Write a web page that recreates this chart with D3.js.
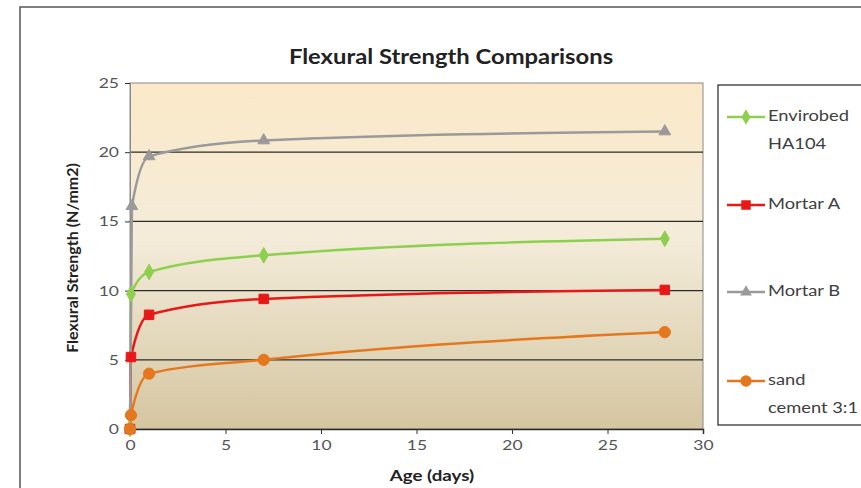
<!DOCTYPE html>
<html><head><meta charset="utf-8">
<script src="https://cdn.jsdelivr.net/npm/d3@7"></script>
<style>body{margin:0;background:#fff;}svg{display:block;font-family:Lato,"Open Sans",sans-serif;}</style>
</head><body><svg id="c" width="861" height="488"></svg>
<script>
const seriesNames = ["Envirobed HA104", "Mortar A", "Mortar B", "sand cement 3:1"];
const envirobedX = [0, 0.05, 1, 7, 28];
const envirobedY = [0, 9.75, 11.35, 12.55, 13.75];
const mortarAX = [0, 0.05, 1, 7, 28];
const mortarAY = [0, 5.2, 8.25, 9.4, 10.05];
const mortarBX = [0, 0.1, 1, 7, 28];
const mortarBY = [0, 16.1, 19.7, 20.85, 21.5];
const sandX = [0, 0.05, 1, 7, 28];
const sandY = [0, 1.0, 4.0, 5.0, 7.0];
const xTicks = [0, 5, 10, 15, 20, 25, 30];
const yTicks = [0, 5, 10, 15, 20, 25];

const colors = ["#8fcf4f", "#e81818", "#9a9a9a", "#e5781e"];
const shapes = [d3.symbolDiamond, d3.symbolSquare, d3.symbolTriangle, d3.symbolCircle];
const sizes = [70, 90, 60, 100];

const series = [
  {name: seriesNames[0], xs: envirobedX, ys: envirobedY},
  {name: seriesNames[1], xs: mortarAX, ys: mortarAY},
  {name: seriesNames[2], xs: mortarBX, ys: mortarBY},
  {name: seriesNames[3], xs: sandX, ys: sandY}
];

const SX = 1.25;
const svg = d3.select("#c");
const L = 130, R = 703, T = 83, B = 429;
const x = d3.scaleLinear().domain([0, 30]).range([L, R]);
const y = d3.scaleLinear().domain([0, 25]).range([B, T]);

svg.append("rect").attr("x", 20).attr("y", 7).attr("width", 900).attr("height", 520)
  .attr("fill", "#fff").attr("stroke", "#555").attr("stroke-width", 1.5);

const defs = svg.append("defs");
const g = defs.append("linearGradient").attr("id", "bg").attr("x1", 0).attr("y1", 0).attr("x2", 0).attr("y2", 1);
g.append("stop").attr("offset", "0%").attr("stop-color", "#fbe9c8");
g.append("stop").attr("offset", "45%").attr("stop-color", "#f4ecda");
g.append("stop").attr("offset", "100%").attr("stop-color", "#d5c6a1");

svg.append("rect").attr("x", L).attr("y", T).attr("width", R - L).attr("height", B - T)
  .attr("fill", "url(#bg)").attr("stroke", "#8a8a8a").attr("stroke-width", 1);

svg.append("g").selectAll("line").data(yTicks.filter(v => v > 0 && v < 25)).join("line")
  .attr("x1", L).attr("x2", R).attr("y1", d => y(d)).attr("y2", d => y(d))
  .attr("stroke", "#2a2a2a").attr("stroke-width", 1.2);

const yAxis = svg.append("g").attr("transform", `translate(${L},0)`)
  .call(d3.axisLeft(y).tickValues(yTicks).tickSize(5).tickPadding(6));
const xAxis = svg.append("g").attr("transform", `translate(0,${B})`)
  .call(d3.axisBottom(x).tickValues(xTicks).tickSize(5).tickPadding(6));
[yAxis, xAxis].forEach(a => {
  a.selectAll("text").attr("fill", "#555").style("font-size", "14px").style("font-family", "Lato, sans-serif");
  a.selectAll(".tick line").attr("stroke", "#333");
});
yAxis.selectAll(".tick text").attr("transform", `scale(${SX},1)`).attr("x", -11 / SX);
xAxis.selectAll(".tick text").attr("transform", `scale(${SX},1)`);
yAxis.select(".domain").attr("stroke", "#8a8a8a");
xAxis.select(".domain").attr("stroke", "#2a2a2a").attr("stroke-width", 1.5);

const line = d3.line().x(d => x(d[0])).y(d => y(d[1])).curve(d3.curveMonotoneX);
series.forEach((s, i) => {
  const pts = s.xs.map((v, j) => [v, s.ys[j]]);
  svg.append("path").datum(pts).attr("d", line).attr("fill", "none")
    .attr("stroke", colors[i]).attr("stroke-width", 2.5);
});
series.forEach((s, i) => {
  const pts = s.xs.map((v, j) => [v, s.ys[j]]);
  svg.append("g").selectAll("path").data(pts).join("path")
    .attr("transform", d => `translate(${x(d[0])},${y(d[1])})`)
    .attr("d", d3.symbol().type(shapes[i]).size(sizes[i]))
    .attr("fill", colors[i]).attr("stroke", colors[i]).attr("stroke-width", 1);
});

function stext(px, py, str, size, opts) {
  const sx = opts.sx || SX;
  const t = svg.append("text").attr("transform", `translate(${px},${py}) scale(${sx},1)`)
    .attr("font-size", size).attr("fill", opts.fill || "#222");
  if (opts.bold) t.attr("font-weight", "bold");
  if (opts.anchor) t.attr("text-anchor", opts.anchor);
  t.text(str);
  return t;
}
stext(451, 64, "Flexural Strength Comparisons", 20, {bold: true, anchor: "middle", sx: 1.19});
svg.append("text").attr("transform", "translate(78,258) rotate(-90)").attr("text-anchor", "middle")
  .attr("font-weight", "bold").attr("font-size", 16).attr("fill", "#222").text("Flexural Strength (N/mm2)");
stext(432, 481, "Age (days)", 15, {bold: true, anchor: "middle"});

svg.append("rect").attr("x", 718).attr("y", 85).attr("width", 200).attr("height", 340)
  .attr("fill", "#fff").attr("stroke", "#222").attr("stroke-width", 1.2);
const legY = [117, 205, 292, 381];
const legLines = [["Envirobed", "HA104"], ["Mortar A"], ["Mortar B"], ["sand", "cement 3:1"]];
series.forEach((s, i) => {
  const gy = legY[i];
  svg.append("line").attr("x1", 727).attr("x2", 765).attr("y1", gy).attr("y2", gy)
    .attr("stroke", colors[i]).attr("stroke-width", 2.5);
  svg.append("path").attr("transform", `translate(746,${gy})`)
    .attr("d", d3.symbol().type(shapes[i]).size(sizes[i])).attr("fill", colors[i]);
  legLines[i].forEach((ln, k) => stext(768, gy + 4 + k * 28, ln, 15, {fill: "#404040", sx: 1.22}));
});
</script></body></html>
